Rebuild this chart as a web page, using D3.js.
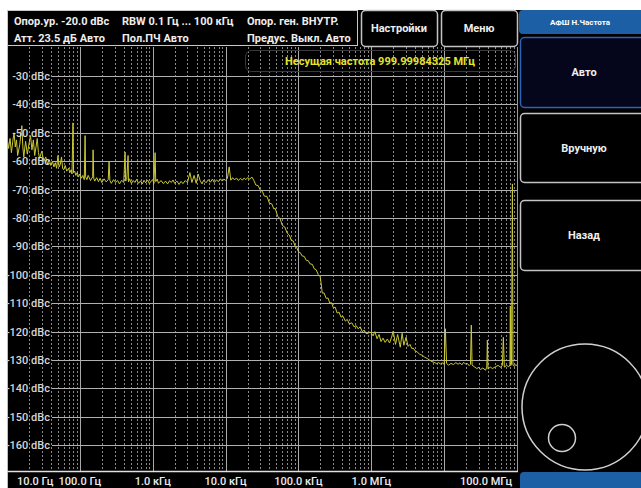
<!DOCTYPE html>
<html>
<head>
<meta charset="utf-8">
<script src="https://cdn.jsdelivr.net/npm/d3@7"></script>
<style>
  html, body { margin: 0; padding: 0; background: #fff; }
  svg { display: block; }
  text { font-family: Roboto, "Noto Sans", sans-serif; }
</style>
</head>
<body>
<div id="chart"></div>
<script>
// Header info
const headerRow1 = ['Опор.ур. -20.0 dBc', 'RBW 0.1 Гц ... 100 кГц', 'Опор. ген. ВНУТР.'];
const headerRow2 = ['Атт. 23.5 дБ Авто', 'Пол.ПЧ Авто', 'Предус. Выкл. Авто'];
const topButtons = ['Настройки', 'Меню'];
const sideTitle = 'АФШ Н.Частота';
const sideButtons = ['Авто', 'Вручную', 'Назад'];
const carrierLabel = 'Несущая частота 999.99984325 МГц';

// Axes
const yTicks = [-30, -40, -50, -60, -70, -80, -90, -100, -110, -120, -130, -140, -150, -160];
const xTickValues = [10, 100, 1e3, 1e4, 1e5, 1e6, 1e8];
const xTickLabels = ['10.0 Гц', '100.0 Гц', '1.0 кГц', '10.0 кГц', '100.0 кГц', '1.0 МГц', '100.0 МГц'];

// Phase noise trace: offset frequency (Hz) and level (dBc)
const traceFreq = [
  10, 10.5, 11, 11.5, 12, 12.5, 13, 13.5, 14, 15, 15.5, 16, 16.5, 17, 18, 19, 20, 21, 22, 23,
  24, 25, 26, 27, 28, 30, 32, 34, 36, 38, 40, 42, 44, 46, 48, 50, 52, 54, 56, 58,
  60, 63, 66, 70, 73, 76, 78, 80.5, 82, 85, 88, 92, 96,
  100, 105, 110, 115, 118, 120, 125, 130, 140, 150, 152, 155, 160, 170, 180, 190, 200, 215, 230, 245,
  252, 258, 270, 290, 310, 330, 350, 375, 400, 418, 425, 440, 459, 465, 480, 510, 540, 570, 600, 640,
  680, 720, 760, 800, 850, 900, 950,
  1000, 1040, 1079, 1100, 1150, 1200, 1300, 1400, 1500, 1600, 1700, 1800, 1900, 2000, 2150, 2300, 2450,
  2600, 2800, 3000, 3240, 3450, 3700, 3950, 4200, 4470, 4750, 5000, 5400, 5800, 6200, 6600, 7000, 7500,
  8000, 8500, 9000, 9500,
  10000, 10600, 11200, 11800, 12500, 13300, 14100, 15000, 16000, 17000, 18000, 19000, 20000, 21500,
  23000, 24500, 26000, 28000, 30000, 32000, 34000, 37000, 40000, 43000, 46000, 48000, 52000, 56000,
  60000, 65000, 70000, 75000, 80000, 85000, 90000, 95000,
  100000, 106000, 113000, 120000, 128000, 136000, 145000, 155000, 165000, 175000, 187000, 199000,
  205000, 212000, 225000, 240000, 255000, 270000, 285000, 301000, 320000, 340000, 360000, 385000,
  410000, 440000, 468000, 500000, 540000, 580000, 620000, 660000, 706000, 750000, 800000, 850000,
  900000, 950000,
  1.0e6, 1.06e6, 1.12e6, 1.2e6, 1.28e6, 1.36e6, 1.45e6, 1.55e6, 1.66e6, 1.78e6, 1.9e6, 2.0e6, 2.15e6,
  2.3e6, 2.5e6, 2.65e6, 2.8e6, 3.0e6, 3.2e6, 3.4e6, 3.6e6, 3.77e6, 4.0e6, 4.3e6, 4.6e6, 5.0e6, 5.4e6,
  5.88e6, 6.3e6, 6.8e6, 7.3e6, 7.9e6, 8.4e6, 8.87e6, 9.4e6,
  10e6, 10.4e6, 10.8e6, 11.5e6, 12.4e6, 13.4e6, 14.5e6, 15.5e6, 16.5e6, 17.5e6, 18.5e6, 19.5e6,
  20.8e6, 22e6, 23e6, 23.6e6, 24.2e6, 26e6, 28e6, 30e6, 31.4e6, 34e6, 37e6, 38.5e6, 39.2e6, 40e6,
  43e6, 46e6, 50.5e6, 55e6, 60e6, 63e6, 65e6, 67e6, 72e6, 77e6, 80e6, 81e6, 82e6, 84e6, 86.5e6,
  88e6, 92e6, 96e6, 100e6
];
const traceDbc = [
  -51.5, -55.5, -52, -57, -53, -50, -55, -52.5, -58, -54, -50.5, -47.5, -55, -58.5, -53, -57.5, -54, -51, -56, -52.5,
  -58, -55, -52, -57, -59, -56.5, -60, -58.5, -61, -59.5, -61.5, -60, -62, -60.5, -62.5, -58, -62, -61, -58.5, -62.5,
  -63, -61.5, -63.5, -62.5, -64, -63, -64.5, -46.5, -64, -63.5, -65, -64, -65.5,
  -64.5, -66, -65, -66.5, -51, -65.5, -66.5, -65, -66.8, -65.5, -56, -66, -67, -65.8, -67.2, -66, -67.5, -66.2, -67.3, -66.5,
  -60, -66.8, -67.8, -66.5, -67.5, -66.8, -68, -66.7, -67.5, -56.8, -67, -66.5, -58, -67.3, -66.2, -67.8, -66.8, -67.5, -66.4, -67.8,
  -66.9, -68, -66.7, -67.6, -66.6, -67.9, -67,
  -66.5, -67.8, -57, -67.2, -66.3, -67.8, -66.8, -67.9, -67, -68, -66.9, -67.5, -66.6, -67.8, -67, -68.2, -67.1,
  -67.9, -66.8, -67.6, -64, -67.5, -65, -67.8, -64.5, -66.8, -68, -66.7, -67.6, -66.5, -67.4, -66.3, -67.5, -66.6,
  -67.2, -66.2, -67, -66.3,
  -66.8, -66, -62, -66.7, -65.8, -66.6, -65.9, -66.8, -66, -66.7, -65.9, -66.5, -65.8, -66.3,
  -65.6, -66.8, -68.4, -68.6, -70.2, -70.6, -72.3, -72.4, -74.8, -75, -76.8, -76.6, -79.5, -80.2,
  -82.6, -83.2, -85.3, -86, -87.9, -88.1, -89.9, -90.4,
  -91.9, -92.2, -93.4, -93.5, -94.9, -95, -96.2, -96.3, -97.9, -98.2, -99.9, -100.7,
  -103, -106.4, -106.4, -108.3, -108.2, -110, -109.8, -111.6, -111.4, -113.5, -113.1, -114.9,
  -114.6, -116.3, -115.7, -117.3, -116.9, -118.3, -117.9, -119, -118.3, -120, -119.5, -120.7,
  -120.6, -120.2,
  -120.5, -121.5, -120, -122.5, -121, -123.5, -122.3, -123.8, -122.6, -124, -122, -119.8, -124.5,
  -121, -125.5, -120.6, -124.8, -122, -125.2, -124.5, -126, -125.8, -126.8, -127.2, -128, -128.3, -129,
  -129.5, -130, -130.6, -130.8, -131.3, -130.9, -131.4, -131,
  -131.5, -119, -131.2, -131.8, -131.2, -131.6, -130.9, -131.5, -131, -131.7, -130.8, -131.4,
  -131.2, -132, -131.5, -117.7, -131.8, -132.4, -133, -132.6, -133.4, -132.8, -133.6, -132.5, -123, -133.2,
  -132.5, -133, -132.4, -131.9, -132.6, -131.8, -122, -132.5, -131.9, -132.4, -131.7, -111, -132, -131.5, -68,
  -131.8, -132.3, -131.6, -132
];

const W = 641, H = 488;
const plot = { left: 7, right: 517, top: 47, bottom: 471 };

const svg = d3.select('#chart').append('svg')
  .attr('width', W)
  .attr('height', H);

// Black screen area
svg.append('rect')
  .attr('x', 7).attr('y', 10)
  .attr('width', W - 7).attr('height', H - 10)
  .attr('fill', '#000');

const x = d3.scaleLog().domain([10, 1e8]).range([plot.left, plot.right]);
const y = d3.scaleLinear().domain([-20, -170]).range([47.6, 473.6]);

svg.append('clipPath').attr('id', 'plotClip')
  .append('rect')
  .attr('x', plot.left).attr('y', plot.top)
  .attr('width', plot.right - plot.left).attr('height', plot.bottom - plot.top);

const grid = svg.append('g');

// Minor (dashed) vertical grid lines
const minorTicks = [];
for (let d = 10; d < 1e8; d *= 10) {
  for (let m = 2; m <= 9; m++) minorTicks.push(d * m);
}
grid.selectAll('.vminor')
  .data(minorTicks)
  .enter().append('line')
  .attr('x1', d => Math.round(x(d)) + 0.5)
  .attr('x2', d => Math.round(x(d)) + 0.5)
  .attr('y1', plot.top)
  .attr('y2', plot.bottom)
  .attr('stroke', '#8a8a8a')
  .attr('stroke-width', 1)
  .attr('stroke-dasharray', '2,2');

// Decade (solid) vertical lines
const decades = [100, 1e3, 1e4, 1e5, 1e6, 1e7];
grid.selectAll('.vmajor')
  .data(decades)
  .enter().append('line')
  .attr('x1', d => Math.round(x(d)) + 0.5)
  .attr('x2', d => Math.round(x(d)) + 0.5)
  .attr('y1', plot.top)
  .attr('y2', plot.bottom)
  .attr('stroke', '#a8a8a8')
  .attr('stroke-width', 1);

// Horizontal grid lines
grid.selectAll('.hline')
  .data(yTicks)
  .enter().append('line')
  .attr('x1', 52)
  .attr('x2', plot.right)
  .attr('y1', d => Math.round(y(d)) + 0.5)
  .attr('y2', d => Math.round(y(d)) + 0.5)
  .attr('stroke', '#b0b0b0')
  .attr('stroke-width', 1);

// Plot frame
svg.append('line')
  .attr('x1', plot.left + 0.5).attr('x2', plot.left + 0.5)
  .attr('y1', 10).attr('y2', H)
  .attr('stroke', '#bdbdbd');
svg.append('line')
  .attr('x1', plot.right + 0.5).attr('x2', plot.right + 0.5)
  .attr('y1', plot.top).attr('y2', plot.bottom)
  .attr('stroke', '#9a9a9a');
svg.append('line')
  .attr('x1', plot.left).attr('x2', plot.right + 1)
  .attr('y1', plot.bottom + 0.5).attr('y2', plot.bottom + 0.5)
  .attr('stroke', '#e0e0e0')
  .attr('stroke-width', 1.5);

// Trace
const traceData = traceFreq.map((f, i) => ({ f: f, v: traceDbc[i] }));
svg.append('path')
  .datum(traceData)
  .attr('clip-path', 'url(#plotClip)')
  .attr('fill', 'none')
  .attr('stroke', '#cbc935')
  .attr('stroke-width', 1)
  .attr('stroke-linejoin', 'round')
  .attr('d', d3.line().x(d => x(d.f)).y(d => y(d.v)));

// Y labels
svg.selectAll('.ylab')
  .data(yTicks)
  .enter().append('text')
  .attr('x', 50)
  .attr('y', d => y(d) + 4)
  .attr('text-anchor', 'end')
  .attr('fill', '#d6d6d6')
  .attr('font-size', 11)
  .attr('font-weight', 500)
  .text(d => d + ' dBc');

// X labels
svg.selectAll('.xlab')
  .data(xTickValues)
  .enter().append('text')
  .attr('x', (d, i) => i === 0 ? x(d) + 10 : (i === xTickValues.length - 1 ? x(d) - 5 : x(d)))
  .attr('y', 485)
  .attr('text-anchor', (d, i) => i === 0 ? 'start' : (i === xTickValues.length - 1 ? 'end' : 'middle'))
  .attr('fill', '#ececec')
  .attr('font-size', 11)
  .attr('font-weight', 500)
  .text((d, i) => xTickLabels[i]);

// Carrier frequency annotation
svg.append('rect')
  .attr('x', 245.5).attr('y', 50.5)
  .attr('width', 270).attr('height', 21)
  .attr('rx', 6)
  .attr('fill', 'none')
  .attr('stroke', '#3a3a3a');
svg.append('text')
  .attr('x', 380).attr('y', 65)
  .attr('text-anchor', 'middle')
  .attr('fill', '#e6e22e')
  .attr('font-size', 11)
  .attr('font-weight', 'bold')
  .text(carrierLabel);

// Header box
svg.append('rect')
  .attr('x', 7.5).attr('y', 10.5)
  .attr('width', 350).attr('height', 35)
  .attr('fill', '#000')
  .attr('stroke', '#c8c8c8');
const headerCols = [14, 122, 247];
svg.selectAll('.h1')
  .data(headerRow1)
  .enter().append('text')
  .attr('x', (d, i) => headerCols[i])
  .attr('y', 25)
  .attr('fill', '#eeeeee')
  .attr('font-size', 11)
  .attr('font-weight', 'bold')
  .text(d => d);
svg.selectAll('.h2')
  .data(headerRow2)
  .enter().append('text')
  .attr('x', (d, i) => headerCols[i])
  .attr('y', 42)
  .attr('fill', '#eeeeee')
  .attr('font-size', 11)
  .attr('font-weight', 'bold')
  .text(d => d);

// Top buttons
const topBtnX = [361, 441];
topButtons.forEach((label, i) => {
  svg.append('rect')
    .attr('x', topBtnX[i] + 0.5).attr('y', 10.5)
    .attr('width', 76).attr('height', 36)
    .attr('rx', 4)
    .attr('fill', '#000')
    .attr('stroke', '#c4c4c4')
    .attr('stroke-width', 1.5);
  svg.append('text')
    .attr('x', topBtnX[i] + 38).attr('y', 32)
    .attr('text-anchor', 'middle')
    .attr('fill', '#eeeeee')
    .attr('font-size', 11)
    .attr('font-weight', 'bold')
    .text(label);
});

// Side panel
svg.append('rect')
  .attr('x', 519).attr('y', 10)
  .attr('width', 130).attr('height', 24)
  .attr('rx', 4)
  .attr('fill', '#1d5fa5');
svg.append('text')
  .attr('x', 580).attr('y', 25)
  .attr('text-anchor', 'middle')
  .attr('fill', '#ffffff')
  .attr('font-size', 8)
  .attr('font-weight', 'bold')
  .text(sideTitle);

const sideBtnY = [37, 113, 200];
const sideBtnH = [70, 69, 70];
sideButtons.forEach((label, i) => {
  svg.append('rect')
    .attr('x', 520.5).attr('y', sideBtnY[i] + 0.5)
    .attr('width', 130).attr('height', sideBtnH[i])
    .attr('rx', 4)
    .attr('fill', i === 0 ? '#05051c' : '#000')
    .attr('stroke', i === 0 ? '#2d62b4' : '#c4c4c4')
    .attr('stroke-width', 1.5);
  svg.append('text')
    .attr('x', 584).attr('y', sideBtnY[i] + sideBtnH[i] / 2 + 4)
    .attr('text-anchor', 'middle')
    .attr('fill', '#eeeeee')
    .attr('font-size', 11)
    .attr('font-weight', 'bold')
    .text(label);
});

// Knob
svg.append('circle')
  .attr('cx', 585).attr('cy', 407).attr('r', 63)
  .attr('fill', 'none')
  .attr('stroke', '#d0d0d0')
  .attr('stroke-width', 1.5);
svg.append('circle')
  .attr('cx', 562).attr('cy', 438).attr('r', 13.5)
  .attr('fill', 'none')
  .attr('stroke', '#d0d0d0')
  .attr('stroke-width', 1.5);

// Bottom blue bar
svg.append('rect')
  .attr('x', 520).attr('y', 472)
  .attr('width', 130).attr('height', 24)
  .attr('rx', 4)
  .attr('fill', '#1d5fa5');
</script>
</body>
</html>
